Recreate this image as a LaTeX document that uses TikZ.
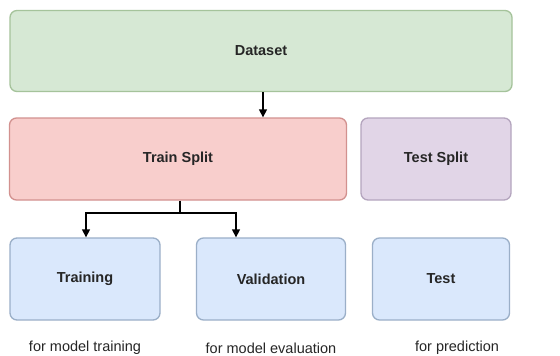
\documentclass[tikz,border=0pt]{standalone}
\usepackage{fontspec}
\setmainfont{Liberation Sans}
\usetikzlibrary{arrows.meta}
\definecolor{gfill}{RGB}{214,232,212}
\definecolor{gdraw}{RGB}{165,195,155}
\definecolor{rfill}{RGB}{248,206,204}
\definecolor{rdraw}{RGB}{210,145,143}
\definecolor{pfill}{RGB}{225,213,231}
\definecolor{pdraw}{RGB}{180,165,190}
\definecolor{bfill}{RGB}{218,232,252}
\definecolor{bdraw}{RGB}{155,175,200}
\begin{document}
\begin{tikzpicture}[x=1pt,y=-1pt,
  box/.style={draw, line width=1.3pt, rounded corners=7pt, font=\fontsize{14.5}{17}\selectfont\bfseries, text=black!85},
  gbox/.style={box, fill=gfill, draw=gdraw},
  rbox/.style={box, fill=rfill, draw=rdraw},
  pbox/.style={box, fill=pfill, draw=pdraw},
  bbox/.style={box, fill=bfill, draw=bdraw},
  captext/.style={font=\fontsize{14.5}{17}\selectfont, text=black!85},
  conn/.style={line width=1.3pt, -{Triangle[length=8pt,width=8pt]}}]
\useasboundingbox (0,0) rectangle (560,356);
\fill[white] (0,0) rectangle (560,356);
\node[gbox, minimum width=502pt, minimum height=81pt] (ds) at (261,51) {Dataset};
\node[rbox, minimum width=337pt, minimum height=82pt] (tr) at (178,159) {Train Split};
\node[pbox, minimum width=150pt, minimum height=82pt] (ts) at (436,159) {Test Split};
\node[bbox, minimum width=150pt, minimum height=82pt] (trn) at (85,279) {Training};
\node[bbox, minimum width=149pt, minimum height=82pt] (val) at (271,279) {Validation};
\node[bbox, minimum width=137pt, minimum height=82pt] (tst) at (441,279) {Test};
\node[captext] (c1) at (85,348) {for model training};
\node[captext] (c2) at (271,348) {for model evaluation};
\node[captext] (c3) at (457,348) {for prediction};
\draw[conn] (ds.south -| 263,0) -- (tr.north -| 263,0);
\coordinate (j) at (180,213);
\draw[line width=1.3pt] (tr.south -| j) -- (j);
\draw[conn] (j) -- (86,213) -- (trn.north -| 86,0);
\draw[conn] (j) -- (236,213) -- (val.north -| 236,0);
\end{tikzpicture}
\end{document}
